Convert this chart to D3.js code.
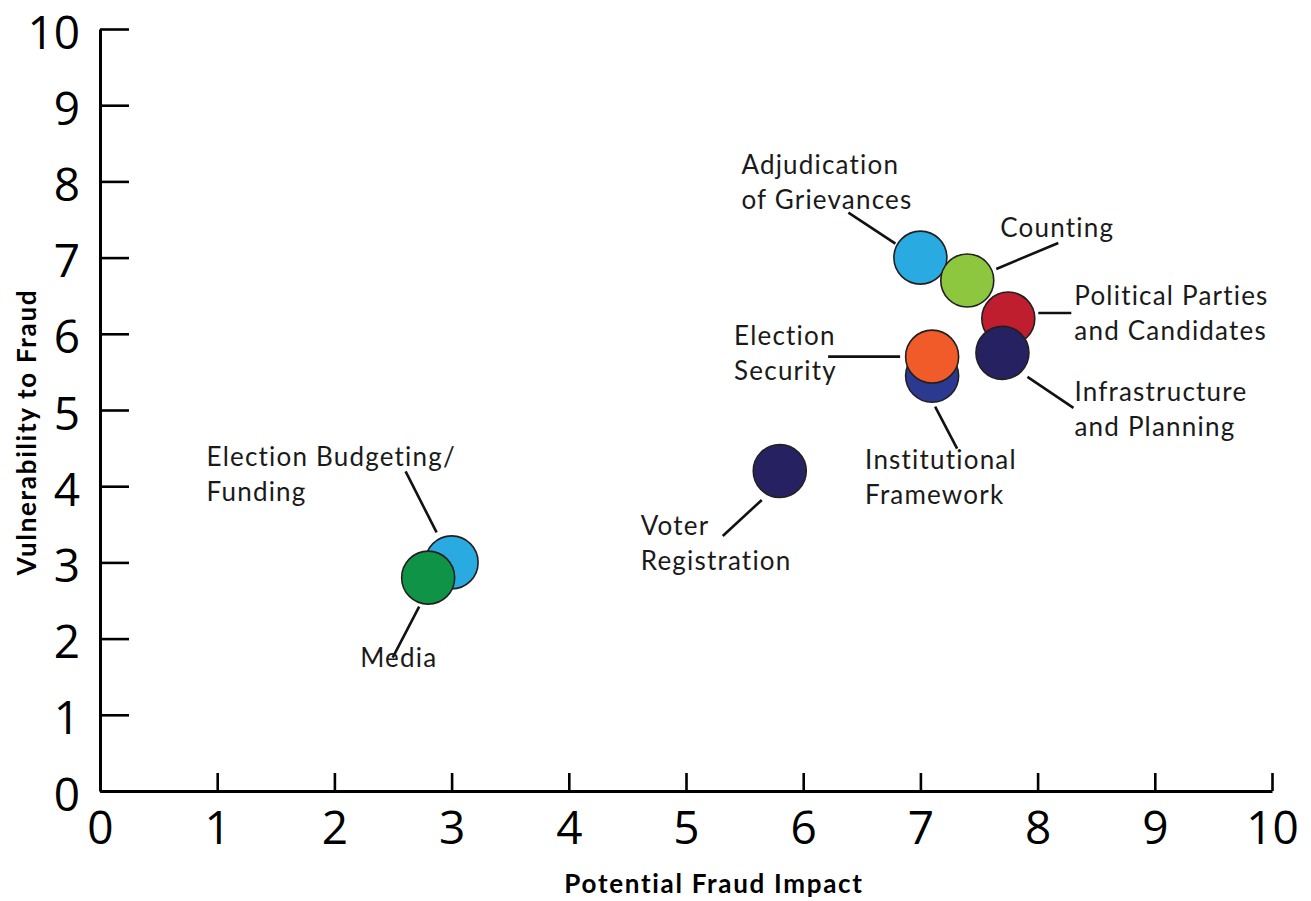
<!DOCTYPE html>
<html>
<head>
<meta charset="utf-8">
<script src="https://cdn.jsdelivr.net/npm/d3@7"></script>
<style>
  html, body { margin: 0; padding: 0; background: #ffffff; }
  svg { display: block; }
</style>
</head>
<body>
<svg id="chart" width="1311" height="901"></svg>
<script>
// Election process components rated on two 0–10 scales
const categories = [
  "Adjudication of Grievances",
  "Counting",
  "Political Parties and Candidates",
  "Infrastructure and Planning",
  "Institutional Framework",
  "Election Security",
  "Election Budgeting/Funding",
  "Media",
  "Voter Registration"
];
const impact        = [7.0, 7.4, 7.75, 7.7, 7.1, 7.1, 3.0, 2.8, 5.8];
const vulnerability = [7.0, 6.7, 6.2, 5.75, 5.45, 5.7, 3.0, 2.8, 4.2];
const labelLines = [
  ["Adjudication", "of Grievances"],
  ["Counting"],
  ["Political Parties", "and Candidates"],
  ["Infrastructure", "and Planning"],
  ["Institutional", "Framework"],
  ["Election", "Security"],
  ["Election Budgeting/", "Funding"],
  ["Media"],
  ["Voter", "Registration"]
];
const tickValues = [0, 1, 2, 3, 4, 5, 6, 7, 8, 9, 10];
const xTitle = "Potential Fraud Impact";
const yTitle = "Vulnerability to Fraud";

// Styling
const fills = ["#29abe2", "#8dc63f", "#be1e2d", "#262262", "#2b3990", "#f15a29", "#29abe2", "#0f9447", "#262262"];

// Label placement relative to each bubble centre: text origin and leader line ends
const labelLayout = [
  { tx: -179, ty: -84,   l: [-72, -45, -25, -14] },
  { tx: 33,   ty: -43.5, l: [91, -37.5, 29, -11.5] },
  { tx: 66,   ty: -14,   l: [30, -5.6, 63, -5.6] },
  { tx: 72,   ty: 48,    l: [25, 24, 71, 55] },
  { tx: -67,  ty: 93,    l: [3, 31, 25, 73] },
  { tx: -198, ty: -12,   l: [-104, 0, -32, 0] },
  { tx: -245, ty: -96,   l: [-46, -91, -15, -30] },
  { tx: -68,  ty: 89,    l: [-35.5, 80, -9, 29] },
  { tx: -139, ty: 64,    l: [-57, 65, -18, 29] }
];

const svg = d3.select("#chart");
const x = d3.scaleLinear().domain([0, 10]).range([100, 1272]);
const y = d3.scaleLinear().domain([0, 10]).range([791, 29]);

const tickFont = "'Open Sans', 'DejaVu Sans', sans-serif";
const labelFont = "Lato, 'Open Sans', sans-serif";

// Y axis: ticks point inward
const gy = svg.append("g")
  .attr("transform", `translate(${x(0)},0)`)
  .call(d3.axisLeft(y).tickValues(tickValues).tickFormat(d3.format("d"))
    .tickSize(-29).tickSizeOuter(0).tickPadding(20));
gy.selectAll("text")
  .attr("dy", null).attr("y", 19)
  .style("font-family", tickFont).style("font-size", "46px").attr("fill", "#000");

// X axis: ticks point upward
const gx = svg.append("g")
  .attr("transform", `translate(0,${y(0)})`)
  .call(d3.axisBottom(x).tickValues(tickValues).tickFormat(d3.format("d"))
    .tickSize(-18).tickSizeOuter(0).tickPadding(0));
gx.selectAll("text")
  .attr("dy", null).attr("y", 53)
  .style("font-family", tickFont).style("font-size", "46px").attr("fill", "#000");

[gx, gy].forEach(g => {
  g.select(".domain").attr("stroke", "#000").attr("stroke-width", 3);
  g.selectAll(".tick line").attr("stroke", "#000").attr("stroke-width", 2.6);
});

// Axis titles
svg.append("text")
  .attr("x", 714).attr("y", 893)
  .attr("text-anchor", "middle")
  .style("font-family", labelFont).style("font-weight", 700).style("font-size", "26px")
  .style("letter-spacing", "1.7px")
  .text(xTitle);
svg.append("text")
  .attr("transform", "translate(36,432) rotate(-90)")
  .attr("text-anchor", "middle")
  .style("font-family", labelFont).style("font-weight", 700).style("font-size", "26px")
  .style("letter-spacing", "1.7px")
  .text(yTitle);

const points = categories.map((c, i) => ({
  name: c, cx: x(impact[i]), cy: y(vulnerability[i]),
  fill: fills[i], lines: labelLines[i], lay: labelLayout[i]
}));

// Leader lines
svg.append("g").selectAll("line")
  .data(points).join("line")
  .attr("x1", d => d.cx + d.lay.l[0]).attr("y1", d => d.cy + d.lay.l[1])
  .attr("x2", d => d.cx + d.lay.l[2]).attr("y2", d => d.cy + d.lay.l[3])
  .attr("stroke", "#111").attr("stroke-width", 2.6);

// Bubbles
svg.append("g").selectAll("circle")
  .data(points).join("circle")
  .attr("cx", d => d.cx).attr("cy", d => d.cy)
  .attr("r", 26.5)
  .attr("fill", d => d.fill)
  .attr("stroke", "#231f20").attr("stroke-width", 1.6);

// Labels
const labels = svg.append("g").selectAll("text")
  .data(points).join("text")
  .attr("x", d => d.cx + d.lay.tx).attr("y", d => d.cy + d.lay.ty)
  .style("font-family", labelFont).style("font-size", "26px")
  .style("letter-spacing", "1.2px").attr("fill", "#1a1a1a");
labels.selectAll("tspan")
  .data(d => d.lines.map((t, k) => ({ t, k, x: d.cx + d.lay.tx })))
  .join("tspan")
  .attr("x", d => d.x).attr("dy", d => d.k === 0 ? 0 : 35)
  .text(d => d.t);
</script>
</body>
</html>
